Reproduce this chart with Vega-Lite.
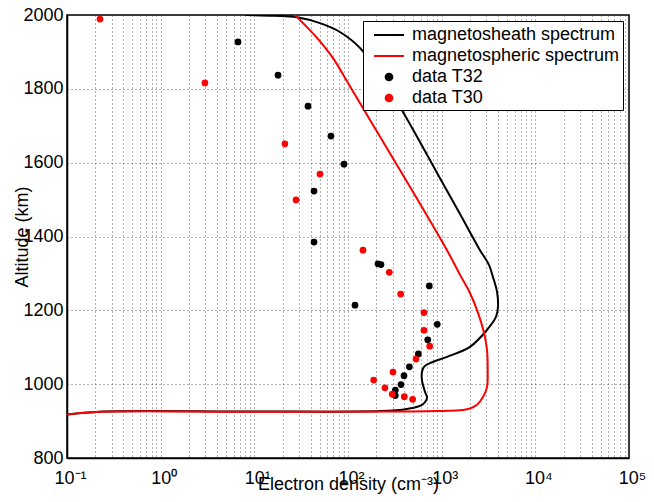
{
  "$schema": "https://vega.github.io/schema/vega-lite/v6.json",
  "width": 562,
  "height": 443,
  "autosize": {"type": "none"},
  "padding": {"left": 67, "top": 15, "right": 25, "bottom": 44},
  "background": "white",
  "config": {
    "font": "Liberation Sans",
    "view": {"stroke": "black", "strokeWidth": 1.5},
    "axis": {
      "labelFont": "Liberation Sans",
      "titleFont": "Liberation Sans",
      "labelFontSize": 18,
      "titleFontSize": 18,
      "titleFontWeight": "normal",
      "labelColor": "black",
      "titleColor": "black",
      "domainColor": "black",
      "domainWidth": 1.5,
      "gridColor": "#222",
      "gridDash": [1, 3],
      "gridWidth": 1,
      "gridOpacity": 0.7,
      "ticks": false
    }
  },
  "datasets": {
    "curves": [
      {"series": "magnetosheath spectrum", "i": 1, "x": 8, "y": 2000},
      {"series": "magnetosheath spectrum", "i": 2, "x": 16.6, "y": 1998},
      {"series": "magnetosheath spectrum", "i": 3, "x": 28.5, "y": 1994},
      {"series": "magnetosheath spectrum", "i": 4, "x": 50.2, "y": 1978},
      {"series": "magnetosheath spectrum", "i": 5, "x": 82, "y": 1954},
      {"series": "magnetosheath spectrum", "i": 6, "x": 134, "y": 1911},
      {"series": "magnetosheath spectrum", "i": 7, "x": 220, "y": 1835},
      {"series": "magnetosheath spectrum", "i": 8, "x": 359, "y": 1751},
      {"series": "magnetosheath spectrum", "i": 9, "x": 587, "y": 1656},
      {"series": "magnetosheath spectrum", "i": 10, "x": 960, "y": 1558},
      {"series": "magnetosheath spectrum", "i": 11, "x": 1570, "y": 1461},
      {"series": "magnetosheath spectrum", "i": 12, "x": 2565, "y": 1363},
      {"series": "magnetosheath spectrum", "i": 13, "x": 3200, "y": 1323},
      {"series": "magnetosheath spectrum", "i": 14, "x": 3530, "y": 1290},
      {"series": "magnetosheath spectrum", "i": 15, "x": 3900, "y": 1250},
      {"series": "magnetosheath spectrum", "i": 16, "x": 3993, "y": 1209},
      {"series": "magnetosheath spectrum", "i": 17, "x": 3800, "y": 1182},
      {"series": "magnetosheath spectrum", "i": 18, "x": 3048, "y": 1147},
      {"series": "magnetosheath spectrum", "i": 19, "x": 2005, "y": 1101},
      {"series": "magnetosheath spectrum", "i": 20, "x": 1140, "y": 1074},
      {"series": "magnetosheath spectrum", "i": 21, "x": 750, "y": 1057},
      {"series": "magnetosheath spectrum", "i": 22, "x": 647, "y": 1047},
      {"series": "magnetosheath spectrum", "i": 23, "x": 616, "y": 1033},
      {"series": "magnetosheath spectrum", "i": 24, "x": 616, "y": 1011},
      {"series": "magnetosheath spectrum", "i": 25, "x": 664, "y": 979},
      {"series": "magnetosheath spectrum", "i": 26, "x": 697, "y": 963},
      {"series": "magnetosheath spectrum", "i": 27, "x": 616, "y": 944},
      {"series": "magnetosheath spectrum", "i": 28, "x": 427, "y": 933},
      {"series": "magnetosheath spectrum", "i": 29, "x": 220, "y": 927},
      {"series": "magnetosheath spectrum", "i": 30, "x": 9, "y": 926},
      {"series": "magnetosheath spectrum", "i": 31, "x": 0.225, "y": 925.5},
      {"series": "magnetosheath spectrum", "i": 32, "x": 0.1, "y": 918},
      {"series": "magnetospheric spectrum", "i": 1, "x": 27.2, "y": 2000},
      {"series": "magnetospheric spectrum", "i": 2, "x": 35.6, "y": 1970},
      {"series": "magnetospheric spectrum", "i": 3, "x": 46.7, "y": 1938},
      {"series": "magnetospheric spectrum", "i": 4, "x": 69.2, "y": 1883},
      {"series": "magnetospheric spectrum", "i": 5, "x": 100, "y": 1816},
      {"series": "magnetospheric spectrum", "i": 6, "x": 220, "y": 1670},
      {"series": "magnetospheric spectrum", "i": 7, "x": 519, "y": 1512},
      {"series": "magnetospheric spectrum", "i": 8, "x": 1140, "y": 1363},
      {"series": "magnetospheric spectrum", "i": 9, "x": 1570, "y": 1296},
      {"series": "magnetospheric spectrum", "i": 10, "x": 2005, "y": 1247},
      {"series": "magnetospheric spectrum", "i": 11, "x": 2445, "y": 1193},
      {"series": "magnetospheric spectrum", "i": 12, "x": 2830, "y": 1139},
      {"series": "magnetospheric spectrum", "i": 13, "x": 3048, "y": 1093},
      {"series": "magnetospheric spectrum", "i": 14, "x": 3100, "y": 1038},
      {"series": "magnetospheric spectrum", "i": 15, "x": 3048, "y": 992},
      {"series": "magnetospheric spectrum", "i": 16, "x": 2762, "y": 965},
      {"series": "magnetospheric spectrum", "i": 17, "x": 2383, "y": 944},
      {"series": "magnetospheric spectrum", "i": 18, "x": 2005, "y": 934},
      {"series": "magnetospheric spectrum", "i": 19, "x": 1690, "y": 930},
      {"series": "magnetospheric spectrum", "i": 20, "x": 891, "y": 927},
      {"series": "magnetospheric spectrum", "i": 21, "x": 359, "y": 926},
      {"series": "magnetospheric spectrum", "i": 22, "x": 9, "y": 925.5},
      {"series": "magnetospheric spectrum", "i": 23, "x": 0.225, "y": 925.5},
      {"series": "magnetospheric spectrum", "i": 24, "x": 0.1, "y": 918}
    ],
    "points": [
      {"series": "data T32", "x": 6.69, "y": 1927},
      {"series": "data T32", "x": 17.9, "y": 1837},
      {"series": "data T32", "x": 37.4, "y": 1753},
      {"series": "data T32", "x": 65.8, "y": 1672},
      {"series": "data T32", "x": 90.6, "y": 1596},
      {"series": "data T32", "x": 43.4, "y": 1523},
      {"series": "data T32", "x": 43.4, "y": 1385},
      {"series": "data T32", "x": 118.8, "y": 1214},
      {"series": "data T32", "x": 209, "y": 1326},
      {"series": "data T32", "x": 225, "y": 1324},
      {"series": "data T32", "x": 738, "y": 1266},
      {"series": "data T32", "x": 897, "y": 1162},
      {"series": "data T32", "x": 710, "y": 1120},
      {"series": "data T32", "x": 564, "y": 1082},
      {"series": "data T32", "x": 452, "y": 1047},
      {"series": "data T32", "x": 396, "y": 1023},
      {"series": "data T32", "x": 368, "y": 999},
      {"series": "data T32", "x": 320, "y": 984},
      {"series": "data T32", "x": 320, "y": 969},
      {"series": "data T30", "x": 0.225, "y": 1989},
      {"series": "data T30", "x": 2.97, "y": 1816},
      {"series": "data T30", "x": 21.2, "y": 1651},
      {"series": "data T30", "x": 50.2, "y": 1569},
      {"series": "data T30", "x": 27.9, "y": 1499},
      {"series": "data T30", "x": 144.5, "y": 1363},
      {"series": "data T30", "x": 276, "y": 1303},
      {"series": "data T30", "x": 365, "y": 1244},
      {"series": "data T30", "x": 647, "y": 1194},
      {"series": "data T30", "x": 647, "y": 1146},
      {"series": "data T30", "x": 745, "y": 1103},
      {"series": "data T30", "x": 532, "y": 1068},
      {"series": "data T30", "x": 302, "y": 1033},
      {"series": "data T30", "x": 188, "y": 1011},
      {"series": "data T30", "x": 248, "y": 990},
      {"series": "data T30", "x": 297, "y": 973},
      {"series": "data T30", "x": 399, "y": 966},
      {"series": "data T30", "x": 490, "y": 959}
    ]
  },
  "layer": [
    {
      "data": {"name": "curves"},
      "mark": {"type": "line", "strokeWidth": 2, "interpolate": "catmull-rom", "clip": true},
      "encoding": {
        "x": {
          "field": "x", "type": "quantitative",
          "scale": {"type": "log", "domain": [0.1, 100000], "nice": false},
          "axis": {
            "title": "Electron density (cm⁻³)",
            "values": [0.1,0.2,0.3,0.4,0.5,0.6,0.7,0.8,0.9,1,2,3,4,5,6,7,8,9,10,20,30,40,50,60,70,80,90,100,200,300,400,500,600,700,800,900,1000,2000,3000,4000,5000,6000,7000,8000,9000,10000,20000,30000,40000,50000,60000,70000,80000,90000,100000],
            "labelExpr": "abs(log(datum.value)/LN10 - round(log(datum.value)/LN10)) < 0.000001 ? ['10⁻¹','10⁰','10¹','10²','10³','10⁴','10⁵'][round(log(datum.value)/LN10)+1] : ''",
            "labelAlign": "center",
            "labelOffset": 3,
            "labelPadding": 11,
            "labelOverlap": false,
            "labelFlush": false,
            "grid": true,
            "titleY": 31,
            "titleBaseline": "alphabetic"
          }
        },
        "y": {
          "field": "y", "type": "quantitative",
          "scale": {"domain": [800, 2000], "nice": false, "zero": false},
          "axis": {
            "title": "Altitude (km)",
            "format": "d",
            "values": [800,1000,1200,1400,1600,1800,2000],
            "labelPadding": 4,
            "grid": true,
            "titleX": -40,
            "titleY": 221.5,
            "titleAngle": 270,
            "titleAlign": "center",
            "titleBaseline": "alphabetic"
          }
        },
        "order": {"field": "i", "type": "quantitative"},
        "color": {
          "field": "series", "type": "nominal",
          "scale": {
            "domain": ["magnetosheath spectrum", "magnetospheric spectrum", "data T32", "data T30"],
            "range": ["#000000", "#ff0000", "#000000", "#ff0000"]
          },
          "legend": {
            "title": null,
            "orient": "top-right",
            "offset": 6,
            "fillColor": "white",
            "strokeColor": "black",
            "padding": 3,
            "labelFont": "Liberation Sans",
            "labelFontSize": 18,
            "labelColor": "black",
            "labelLimit": 0,
            "labelOffset": 12,
            "symbolOffset": 12,
            "symbolSize": 400,
            "rowPadding": 1,
            "symbolStrokeWidth": 2,
            "encode": {
              "symbols": {
                "update": {
                  "shape": {"signal": "(datum.value === 'data T32' || datum.value === 'data T30') ? 'circle' : 'M-1.5,0L1.5,0'"},
                  "size": {"signal": "(datum.value === 'data T32' || datum.value === 'data T30') ? 45 : 400"},
                  "stroke": {"signal": "(datum.value === 'data T32' || datum.value === 'data T30') ? 'transparent' : scale('color', datum.value)"},
                  "fill": {"signal": "(datum.value === 'data T32' || datum.value === 'data T30') ? scale('color', datum.value) : 'transparent'"},
                  "strokeWidth": {"value": 2},
                  "opacity": {"value": 1}
                }
              }
            }
          }
        }
      }
    },
    {
      "data": {"name": "points"},
      "mark": {"type": "circle", "size": 45, "opacity": 1, "clip": true},
      "encoding": {
        "x": {"field": "x", "type": "quantitative"},
        "y": {"field": "y", "type": "quantitative"},
        "color": {"field": "series", "type": "nominal"}
      }
    }
  ]
}
